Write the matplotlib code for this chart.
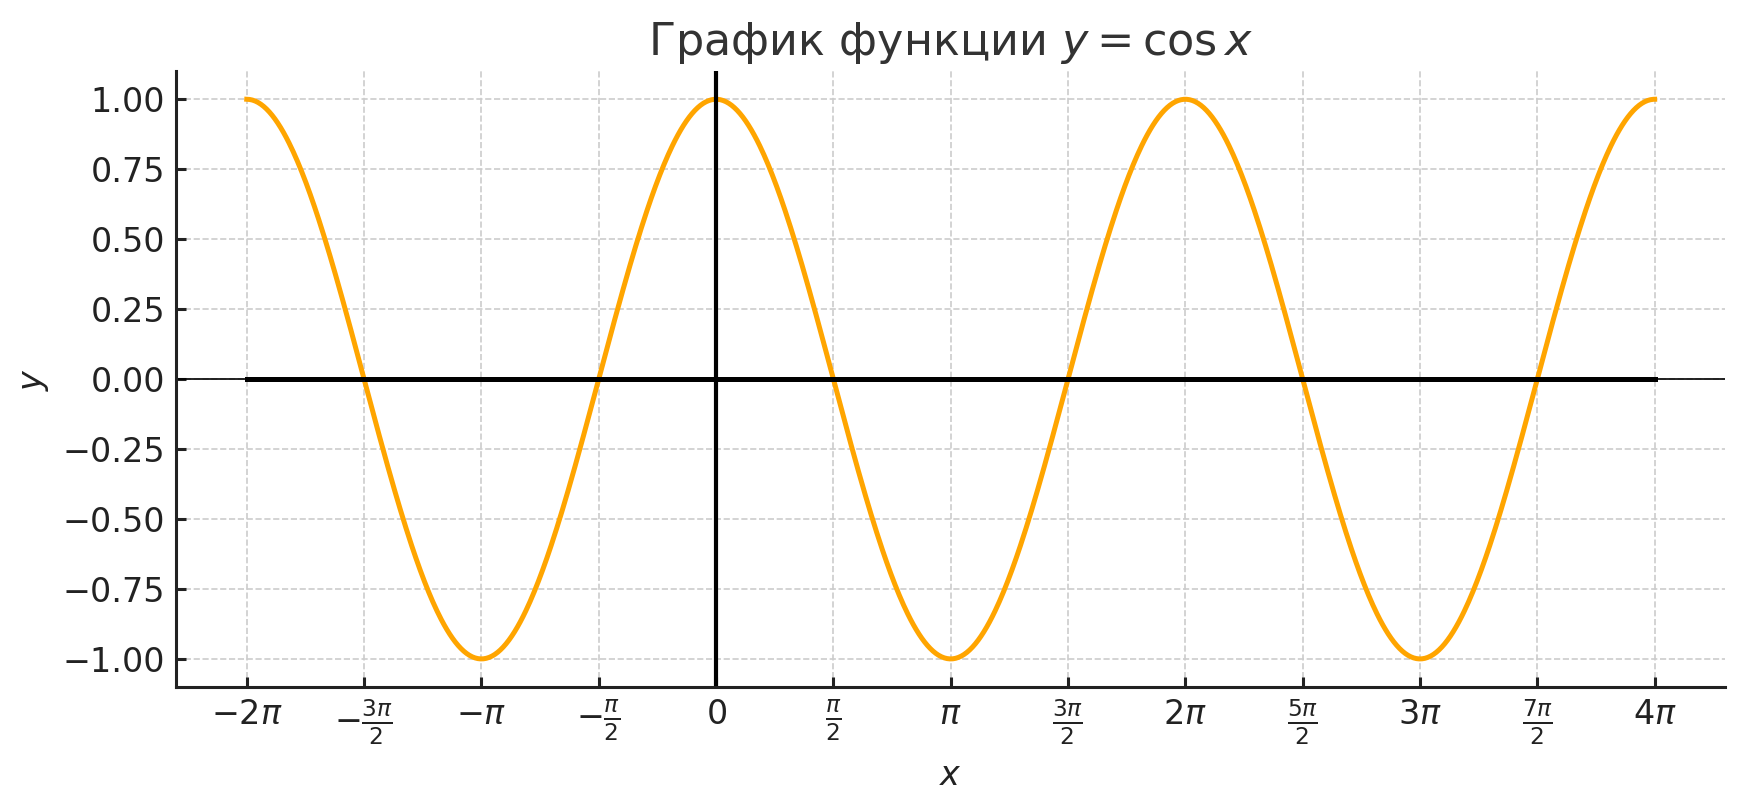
import numpy as np
import matplotlib
import matplotlib.pyplot as plt

matplotlib.use("agg")

# domain of the graph (in units of pi) and the tick positions / labels
x_start, x_end = -2, 4  # multiples of pi
n_points = 1000
tick_pi = [-2, -1.5, -1, -0.5, 0, 0.5, 1, 1.5, 2, 2.5, 3, 3.5, 4]
tick_labels = [r"$-2\pi$", r"$-\frac{3\pi}{2}$", r"$-\pi$", r"$-\frac{\pi}{2}$", r"$0$",
               r"$\frac{\pi}{2}$", r"$\pi$", r"$\frac{3\pi}{2}$", r"$2\pi$",
               r"$\frac{5\pi}{2}$", r"$3\pi$", r"$\frac{7\pi}{2}$", r"$4\pi$"]
y_ticks = [-1.0, -0.75, -0.5, -0.25, 0.0, 0.25, 0.5, 0.75, 1.0]

x = np.linspace(x_start * np.pi, x_end * np.pi, n_points)
y = np.cos(x)

fig, ax = plt.subplots(figsize=(1746 / 200, 810 / 200), dpi=200)
fig.subplots_adjust(left=0.101, right=0.988, top=0.912, bottom=0.152)

ax.plot(x, y, color="#FFA500", lw=1.8)
ax.plot(x, np.zeros_like(x), color="black", lw=1.8)
ax.axhline(0, color="black", lw=0.6)
ax.axvline(0, color="black", lw=1.5)

ax.set_xticks(np.array(tick_pi) * np.pi)
ax.set_xticklabels(tick_labels)
ax.set_yticks(y_ticks)
ax.tick_params(labelsize=12, colors="#222222", width=1.1, length=3.5,
               direction="in", pad=4)

ax.set_title(r"График функции $y = \cos x$", fontsize=16, color="#333333")
ax.set_xlabel(r"$x$", fontsize=12, color="#222222")
ax.set_ylabel(r"$y$", fontsize=12, color="#222222")

ax.grid(True, linestyle="--", color="#cccccc", lw=0.6)
for side in ["top", "right"]:
    ax.spines[side].set_visible(False)
for side in ["left", "bottom"]:
    ax.spines[side].set_linewidth(1.1)
    ax.spines[side].set_color("#222222")

plt.savefig("out.png")
plt.close()
